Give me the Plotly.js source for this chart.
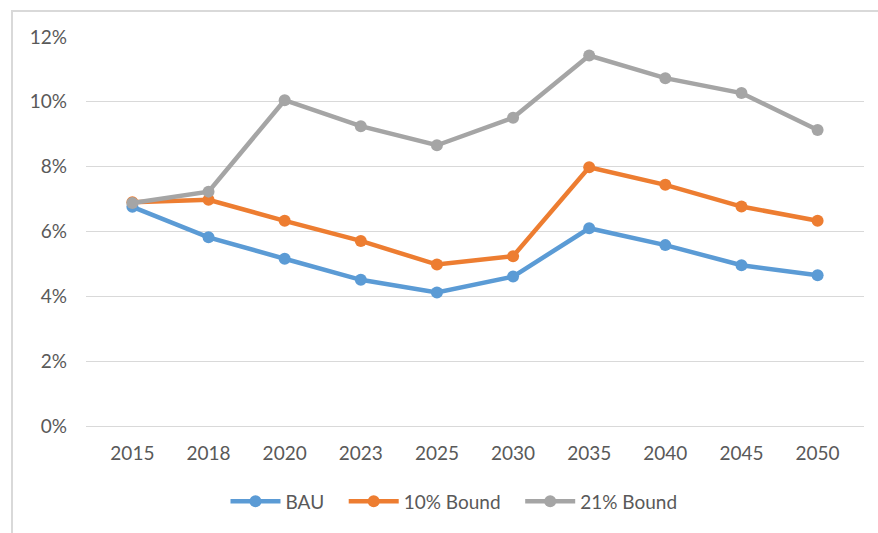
<!DOCTYPE html>
<html>
<head>
<meta charset="utf-8">
<script src="https://cdn.plot.ly/plotly-3.0.1.min.js"></script>
<style>
  html, body { margin: 0; padding: 0; background: #fff; }
  #wrap { position: relative; width: 878px; height: 533px; overflow: hidden; }
  #frame { position: absolute; left: 11px; top: 10px; width: 900px; height: 600px; border: 2px solid #d9d9d9; box-sizing: border-box; }
  #chart { position: absolute; left: 0; top: 0; width: 878px; height: 533px; }
</style>
</head>
<body>
<div id="wrap">
  <div id="frame"></div>
  <div id="chart"></div>
</div>
<script>
const years = ["2015", "2018", "2020", "2023", "2025", "2030", "2035", "2040", "2045", "2050"];
const bau     = [6.76, 5.82, 5.16, 4.51, 4.12, 4.61, 6.10, 5.58, 4.96, 4.65];
const bound10 = [6.90, 6.98, 6.33, 5.71, 4.98, 5.24, 7.98, 7.44, 6.77, 6.33];
const bound21 = [6.88, 7.23, 10.05, 9.25, 8.66, 9.51, 11.43, 10.73, 10.27, 9.13];
const seriesNames = ["BAU", "10% Bound", "21% Bound"];
const colors = ["#5B9BD5", "#ED7D31", "#A5A5A5"];
const yTicks = [0, 2, 4, 6, 8, 10, 12];
const yTickLabels = ["0%", "2%", "4%", "6%", "8%", "10%", "12%"];

const font = "Lato, 'Open Sans', sans-serif";
const pad = "\u00a0\u00a0\u00a0";
const data = [bau, bound10, bound21].map((vals, i) => ({
  type: "scatter",
  mode: "lines+markers",
  name: seriesNames[i] + (i < 2 ? pad : ""),
  x: years,
  y: vals,
  line: { color: colors[i], width: 4.5 },
  marker: { color: colors[i], size: 12 },
  hoverinfo: "x+y"
}));

const layout = {
  width: 878,
  height: 533,
  paper_bgcolor: "rgba(0,0,0,0)",
  plot_bgcolor: "rgba(0,0,0,0)",
  margin: { l: 86, r: 14, t: 37, b: 107 },
  font: { family: font, size: 19, color: "#595959" },
  showlegend: true,
  legend: {
    orientation: "h",
    x: 0.473, xanchor: "center",
    y: -0.145, yanchor: "top",
    itemwidth: 50,
    font: { family: font, size: 19, color: "#595959" },
    traceorder: "normal"
  },
  xaxis: {
    type: "category",
    showgrid: false,
    zeroline: false,
    showline: false,
    ticks: "",
    ticklabelstandoff: 14,
    tickfont: { family: font, size: 19, color: "#595959" },
    fixedrange: true
  },
  yaxis: {
    range: [0, 12],
    tickvals: yTicks,
    ticktext: yTickLabels,
    showgrid: true,
    gridcolor: "#d9d9d9",
    gridwidth: 1,
    zeroline: true,
    zerolinecolor: "#d9d9d9",
    zerolinewidth: 1,
    showline: false,
    ticks: "",
    ticklabelstandoff: 18,
    tickfont: { family: font, size: 19, color: "#595959" },
    fixedrange: true
  }
};

Plotly.newPlot("chart", data, layout, { displayModeBar: false, staticPlot: true });
</script>
</body>
</html>
